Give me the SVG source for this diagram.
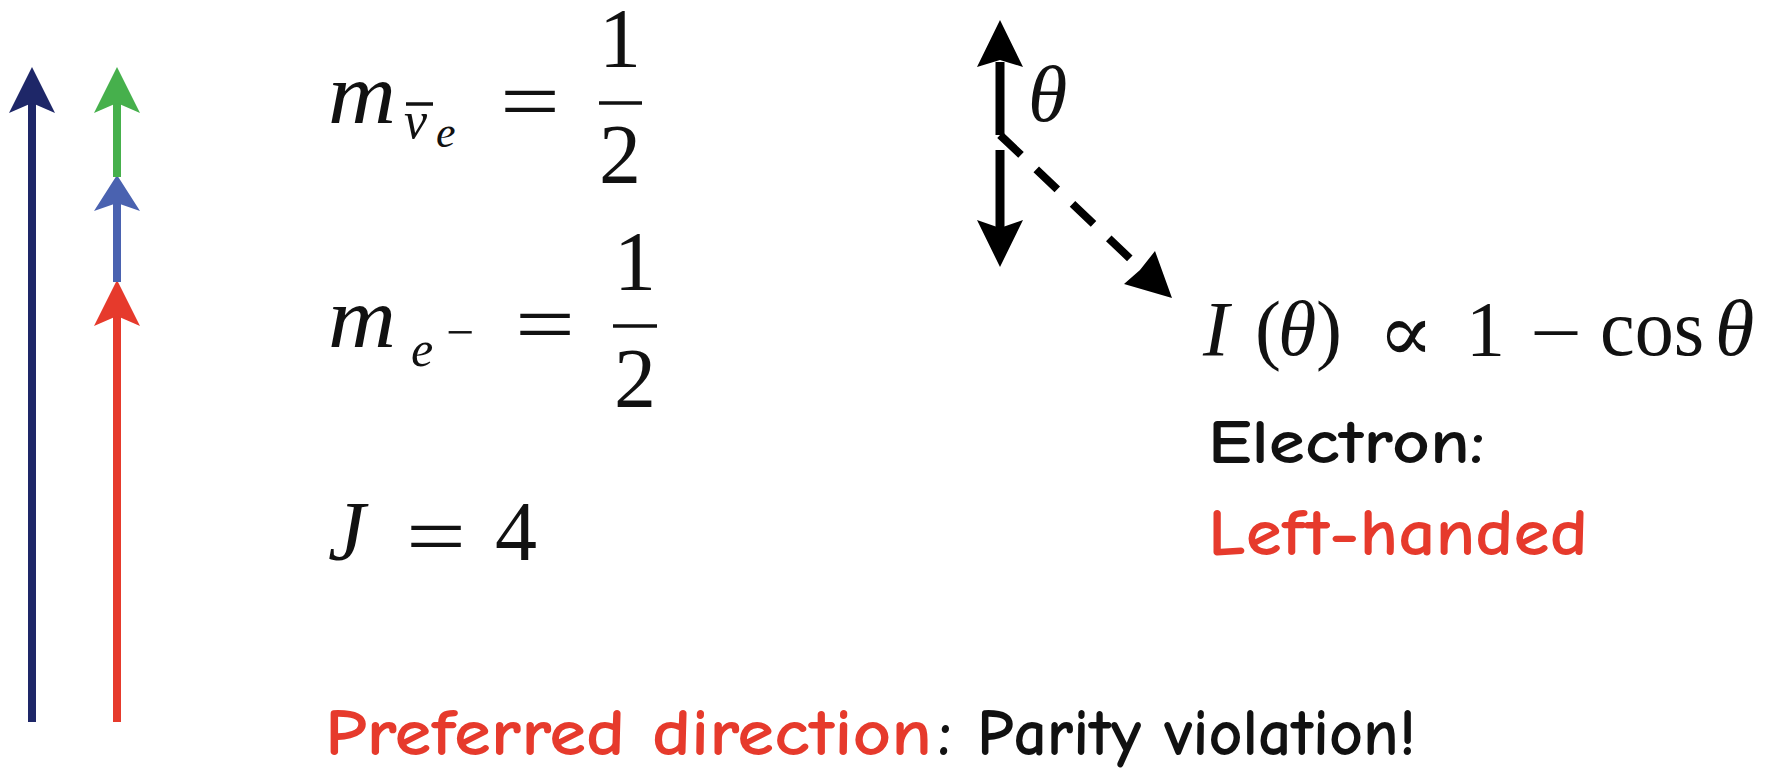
<svg xmlns="http://www.w3.org/2000/svg" width="1783" height="771" viewBox="0 0 1783 771">
<style>
.math{font-family:"Liberation Serif","DejaVu Serif",serif;fill:#111}
.it{font-style:italic}
.sym{font-family:"DejaVu Serif","Liberation Serif",serif;fill:#111}
.comic{font-family:"Comic Sans MS","Comic Neue","Noto Sans","DejaVu Sans",sans-serif;font-weight:700}
.red{fill:#e63a2c}
.blk{fill:#111}
.rule{stroke:#111;stroke-width:3.5}
</style>
<rect width="1783" height="771" fill="#ffffff"/>

<g id="spin-arrows">
  <g id="arrow-navy">
    <line x1="32" y1="722" x2="32" y2="100" stroke="#1e2768" stroke-width="8"/>
    <polygon points="32,67 55,113 32,103 9,113" fill="#1e2768"/>
  </g>
  <g id="arrow-red">
    <line x1="117" y1="722" x2="117" y2="312" stroke="#e63a2c" stroke-width="8"/>
    <polygon points="117,280 140,326 117,316 94,326" fill="#e63a2c"/>
  </g>
  <g id="arrow-blue">
    <line x1="117" y1="282" x2="117" y2="200" stroke="#4a62b0" stroke-width="8"/>
    <polygon points="117,175 140,211 117,203 94,211" fill="#4a62b0"/>
  </g>
  <g id="arrow-green">
    <line x1="117" y1="177" x2="117" y2="100" stroke="#46b04c" stroke-width="8"/>
    <polygon points="117,67 140,113 117,103 94,113" fill="#46b04c"/>
  </g>
</g>

<g id="eq-nu">
  <text class="math it" x="328" y="123" font-size="86" textLength="68" lengthAdjust="spacingAndGlyphs">m</text>
  <line x1="406" y1="104" x2="433" y2="104" class="rule" stroke-width="3"/>
  <text class="math it" x="404" y="138" font-size="52">ν</text>
  <text class="math it" x="436" y="147" font-size="44">e</text>
  <text class="math" x="500" y="130" font-size="84" textLength="60" lengthAdjust="spacingAndGlyphs">=</text>
  <text class="math" x="620" y="67" font-size="84" text-anchor="middle">1</text>
  <line x1="599" y1="103" x2="642" y2="103" class="rule"/>
  <text class="math" x="620" y="183" font-size="84" text-anchor="middle">2</text>
</g>

<g id="eq-e">
  <text class="math it" x="328" y="347" font-size="86" textLength="68" lengthAdjust="spacingAndGlyphs">m</text>
  <text class="math it" x="411" y="366" font-size="50">e</text>
  <text class="math" x="446" y="349" font-size="50" textLength="28" lengthAdjust="spacingAndGlyphs">−</text>
  <text class="math" x="515" y="353" font-size="84" textLength="60" lengthAdjust="spacingAndGlyphs">=</text>
  <text class="math" x="635" y="290" font-size="84" text-anchor="middle">1</text>
  <line x1="613" y1="326" x2="657" y2="326" class="rule"/>
  <text class="math" x="635" y="407" font-size="84" text-anchor="middle">2</text>
</g>

<g id="eq-J">
  <text class="math it" x="328" y="560" font-size="84">J</text>
  <text class="math" x="406" y="565" font-size="84" textLength="60" lengthAdjust="spacingAndGlyphs">=</text>
  <text class="math" x="495" y="560" font-size="84">4</text>
</g>

<g id="connectors">
  <line x1="1000" y1="135" x2="1000" y2="62" stroke="#000" stroke-width="9"/>
  <polygon points="1000,20 1023,67 1000,60 977,67" fill="#000"/>
  <line x1="1000" y1="150" x2="1000" y2="228" stroke="#000" stroke-width="9"/>
  <polygon points="1000,267 1023,220 1000,228 977,220" fill="#000"/>
  <line x1="1000" y1="135" x2="1140" y2="268" stroke="#000" stroke-width="8" stroke-dasharray="29 21"/>
  <polygon points="1172,298 1124,284 1140,270 1155,251" fill="#000"/>
</g>

<g id="theta-label">
  <text class="math it" x="1028" y="121" font-size="80">θ</text>
</g>

<g id="intensity">
  <text class="math it" x="1203" y="355" font-size="78">I</text>
  <text class="math" x="1255" y="355" font-size="78">(</text>
  <text class="math it" x="1278" y="355" font-size="78">θ</text>
  <text class="math" x="1316" y="355" font-size="78">)</text>
  <text class="sym" x="1378" y="361" font-size="82" textLength="56" lengthAdjust="spacingAndGlyphs">∝</text>
  <text class="math" x="1466" y="355" font-size="78">1</text>
  <text class="math" x="1530" y="359" font-size="78" textLength="52" lengthAdjust="spacingAndGlyphs">−</text>
  <text class="math" x="1600" y="355" font-size="80" textLength="104" lengthAdjust="spacingAndGlyphs">cos</text>
  <text class="math it" x="1715" y="355" font-size="80">θ</text>
</g>

<g id="electron-label">
  <text class="comic blk" x="1208" y="463" font-size="62" textLength="277" lengthAdjust="spacingAndGlyphs">Electron:</text>
  <text class="comic red" x="1208" y="555" font-size="66" textLength="380" lengthAdjust="spacingAndGlyphs">Left-handed</text>
</g>

<g id="conclusion">
  <text class="comic red" x="325" y="755" font-size="66" textLength="607" lengthAdjust="spacingAndGlyphs">Preferred direction</text>
  <text class="comic blk" x="938" y="755" font-size="66">:</text>
  <text class="comic blk" x="977" y="755" font-size="66" textLength="439" lengthAdjust="spacingAndGlyphs">Parity violation!</text>
</g>
</svg>
